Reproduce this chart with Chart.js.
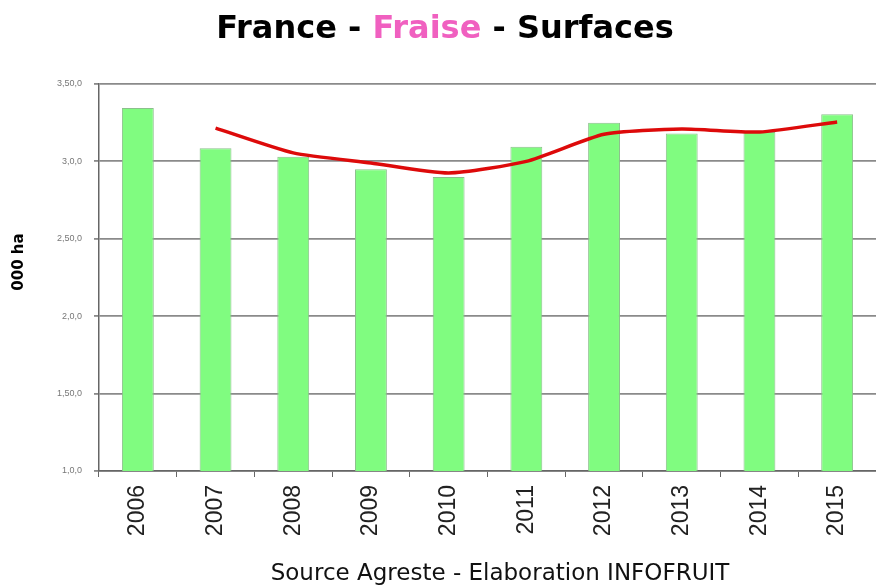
<!DOCTYPE html>
<html>
<head>
<meta charset="utf-8">
<script src="https://cdn.jsdelivr.net/npm/chart.js@4.4.1/dist/chart.umd.min.js"></script>
<style>
  html, body { margin: 0; padding: 0; background: #fff; }
  #wrap { width: 876px; height: 585px; }
</style>
</head>
<body>
<div id="wrap"><canvas id="surfChart" width="876" height="585"></canvas></div>
<script>
// Données (milliers d'ha)
const annees = ['2006', '2007', '2008', '2009', '2010', '2011', '2012', '2013', '2014', '2015'];
const surfaces = [3.345, 3.085, 3.03, 2.95, 2.90, 3.095, 3.25, 3.18, 3.19, 3.305];
const moyenneMobile = [null, 3.215, 3.055, 2.99, 2.925, 3.0, 3.175, 3.21, 3.19, 3.255];
const ticksY = { 1: '1,0,0', 1.5: '1,50,0', 2: '2,0,0', 2.5: '2,50,0', 3: '3,0,0', 3.5: '3,50,0' };

const textes = {
    id: 'textes',
    afterDraw(chart) {
        const c = chart.ctx;
        c.save();
        // titre en trois couleurs
        const parts = [['France - ', '#000'], ['Fraise', '#f060c0'], [' - Surfaces', '#000']];
        c.font = 'bold 32px "DejaVu Sans"';
        c.textBaseline = 'alphabetic';
        c.textAlign = 'left';
        let total = parts.reduce((s, p) => s + c.measureText(p[0]).width, 0);
        let x = 445 - total / 2;
        parts.forEach(p => {
            c.fillStyle = p[1];
            c.fillText(p[0], x, 38);
            x += c.measureText(p[0]).width;
        });
        // titre axe Y
        c.translate(19, 262);
        c.rotate(-Math.PI / 2);
        c.textAlign = 'center';
        c.textBaseline = 'middle';
        c.fillStyle = '#000';
        c.font = 'bold 15px "DejaVu Sans"';
        c.fillText('000 ha', 0, 0);
        c.restore();
        // source
        c.save();
        c.font = '23px "DejaVu Sans"';
        c.fillStyle = '#111';
        c.textAlign = 'center';
        c.fillText('Source Agreste - Elaboration INFOFRUIT', 500, 580);
        c.restore();
    }
};

const ctx = document.getElementById('surfChart').getContext('2d');
new Chart(ctx, {
    type: 'bar',
    data: {
        labels: annees,
        datasets: [{
            type: 'line',
            data: moyenneMobile,
            borderColor: '#dd0a0a',
            borderWidth: 3.5,
            pointRadius: 0,
            tension: 0.2,
            order: 0
        }, {
            type: 'bar',
            data: surfaces,
            backgroundColor: '#80fc80',
            borderColor: '#8cbf8c',
            borderWidth: 1,
            categoryPercentage: 1,
            barPercentage: 0.41,
            order: 1
        }]
    },
    options: {
        responsive: false,
        animation: false,
        layout: { padding: { top: 84, right: 0, left: 0, bottom: 0 } },
        plugins: {
            legend: { display: false },
            tooltip: { enabled: false }
        },
        scales: {
            x: {
                offset: true,
                grid: { display: true, drawOnChartArea: false, offset: true, tickLength: 6, color: '#666' },
                border: { color: '#666', width: 1.5 },
                ticks: {
                    minRotation: 90, maxRotation: 90, padding: 8,
                    color: '#222',
                    font: { family: 'Liberation Sans', size: 23 }
                },
                afterFit(scale) { scale.height = 114; }
            },
            y: {
                min: 1, max: 3.5,
                ticks: {
                    stepSize: 0.5,
                    padding: 12,
                    color: '#777',
                    font: { family: 'Liberation Sans', size: 9 },
                    callback: v => ticksY[v]
                },
                grid: { color: '#8a8a8a', lineWidth: 1.8, tickLength: 5 },
                border: { color: '#666', width: 1.5 },
                afterFit(scale) { scale.width = 99; }
            }
        }
    },
    plugins: [textes]
});
</script>
</body>
</html>
